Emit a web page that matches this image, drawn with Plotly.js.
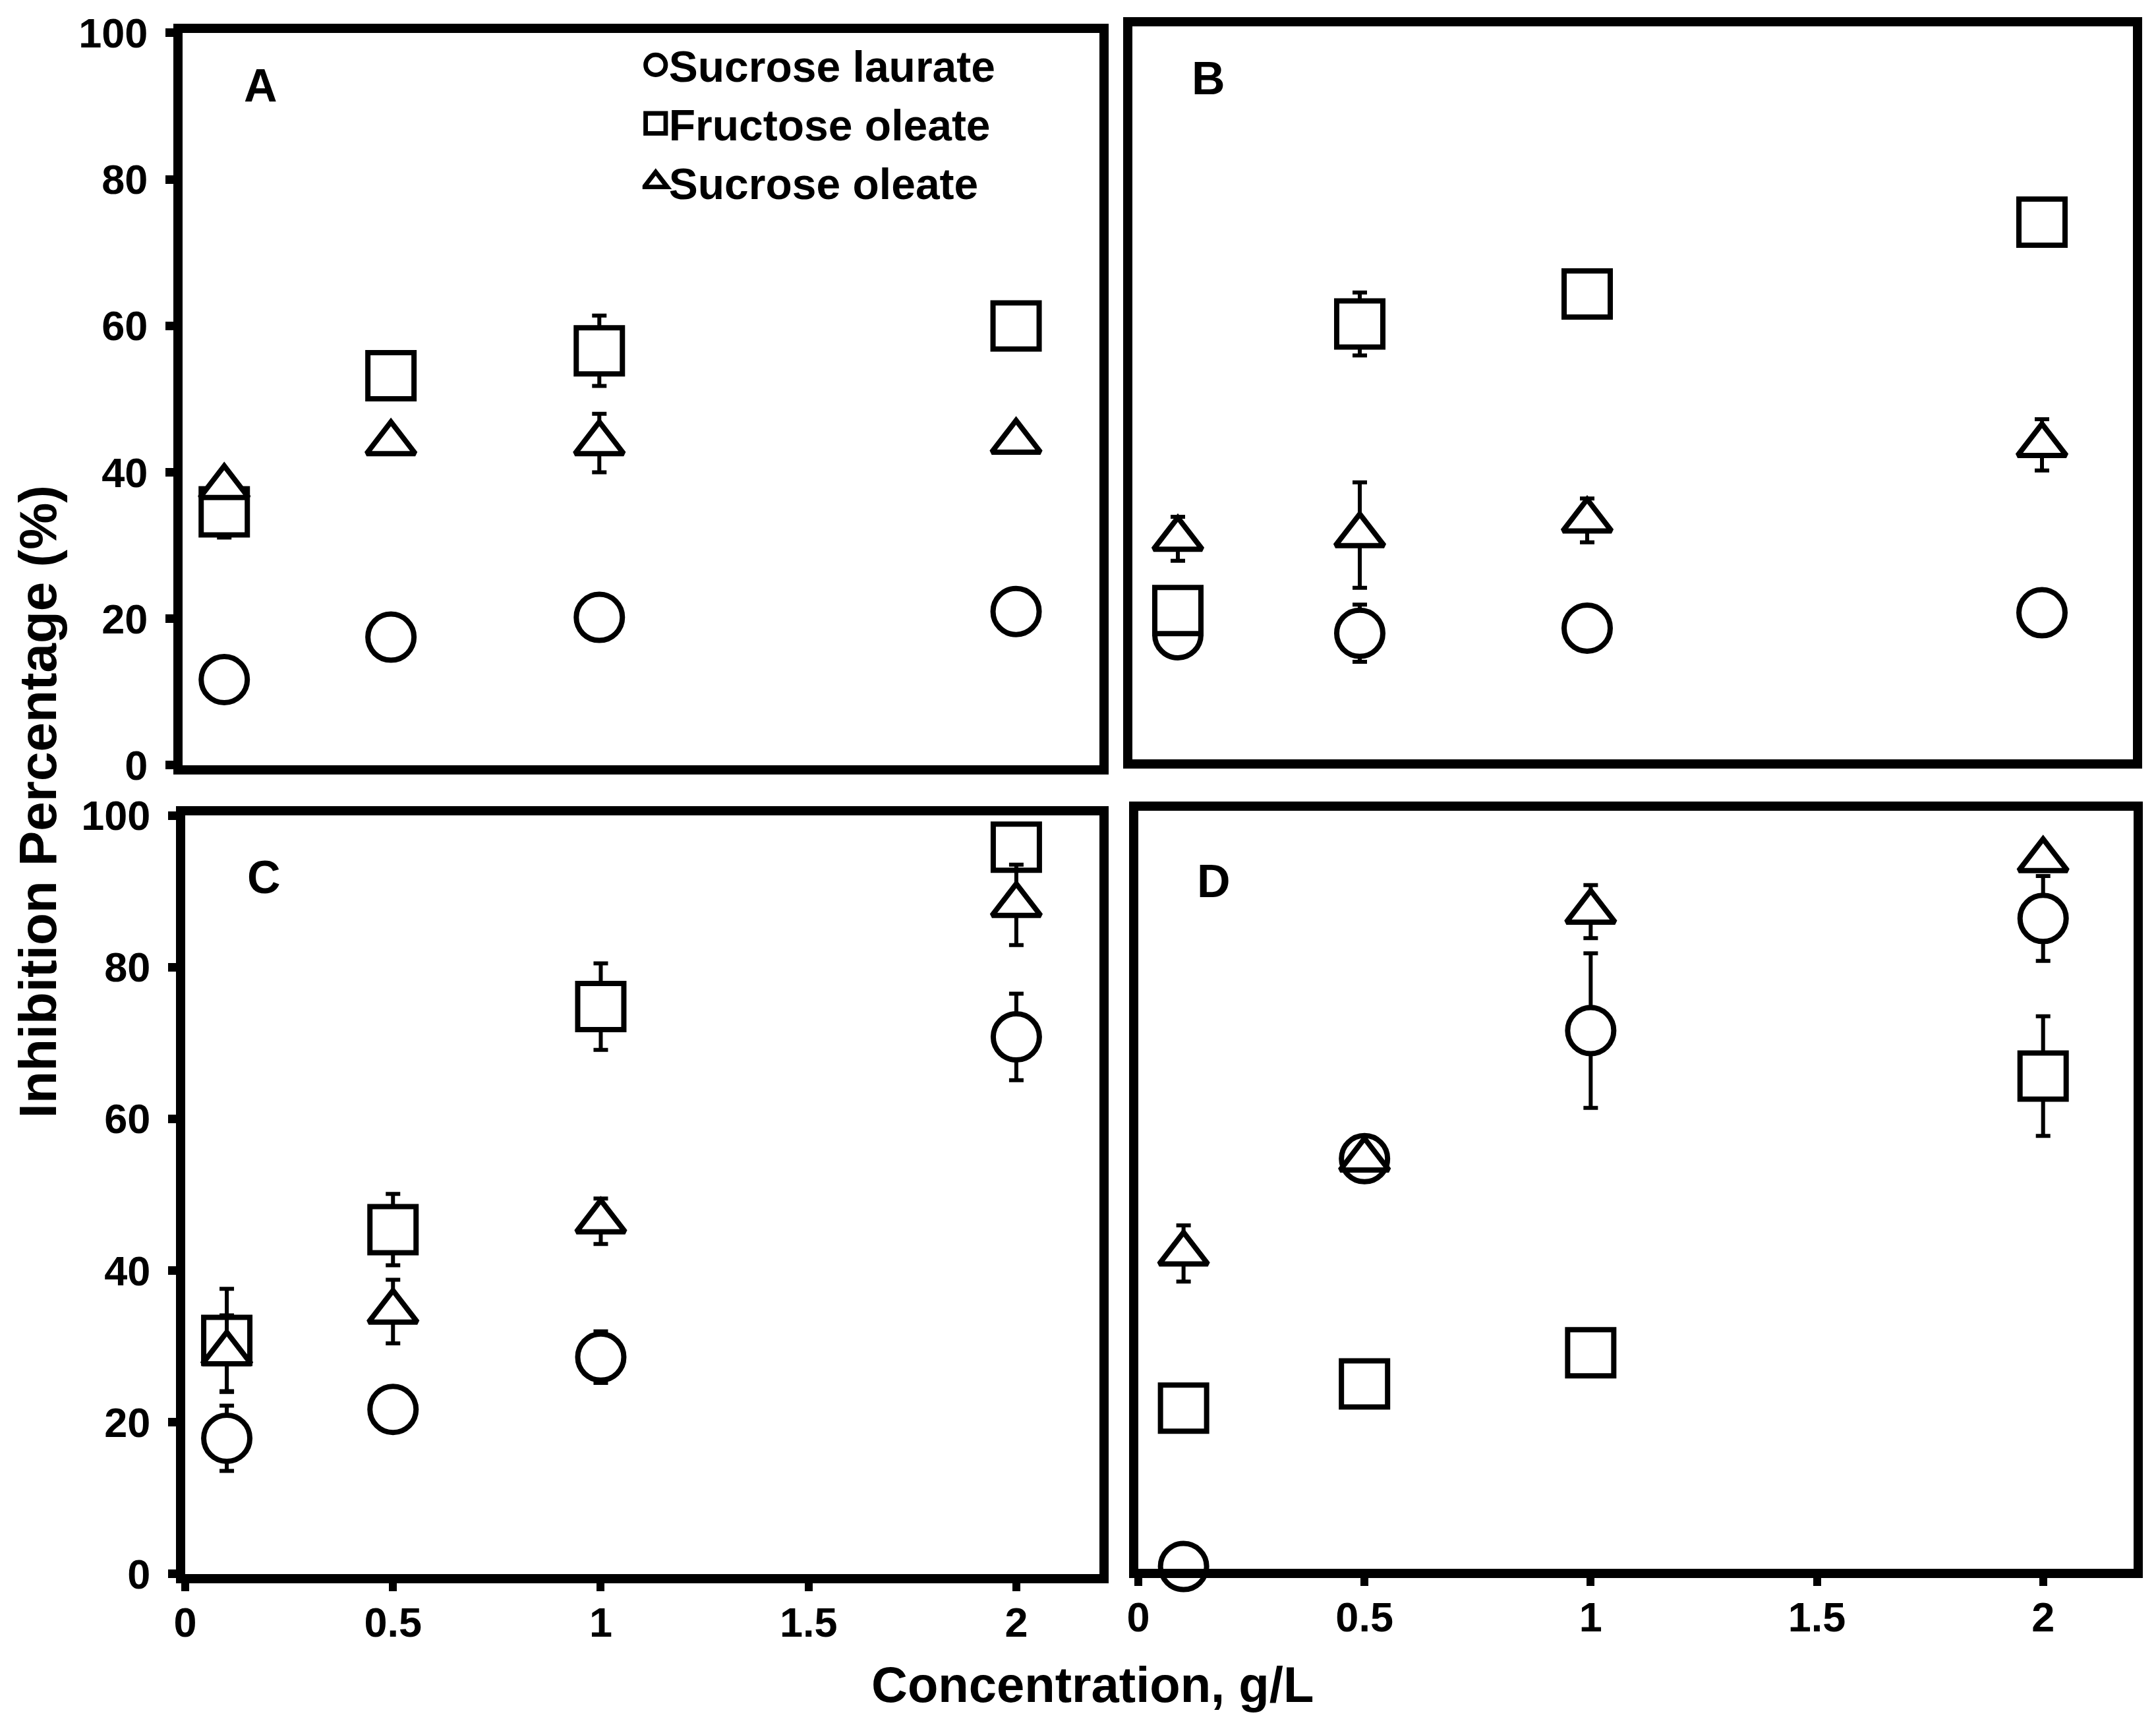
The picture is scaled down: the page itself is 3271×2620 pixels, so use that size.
<!DOCTYPE html>
<html>
<head>
<meta charset="utf-8">
<script src="https://cdn.plot.ly/plotly-3.0.1.min.js"></script>
<style>
  html, body { margin: 0; padding: 0; background: #ffffff; }
  #grafico { width: 3271px; height: 2620px; }
</style>
</head>
<body>
<div id="grafico"></div>
<script>
// Concentração (g/L) - mesma para todos os painéis
const concentracoes = [0.1, 0.5, 1, 2];
const nomesSeries = ['Sucrose laurate', 'Fructose oleate', 'Sucrose oleate'];
const paineis = ['A', 'B', 'C', 'D'];

// Painel A
const aLaurate = [11.7, 17.5, 20.2, 21.0];
const aLaurateErr = [0, 0, 0, 0];
const aFrutOleato = [34.6, 53.2, 56.6, 60.0];
const aFrutOleatoErr = [3.5, 0, 4.8, 0];
const aSacOleato = [38.0, 44.0, 44.0, 44.2];
const aSacOleatoErr = [0, 0, 4.0, 0];

// Painel B
const bLaurate = [17.0, 17.2, 17.9, 20.0];
const bLaurateErr = [0, 3.9, 0, 0];
const bFrutOleato = [20.3, 59.4, 63.5, 73.3];
const bFrutOleatoErr = [0, 4.3, 1.0, 0];
const bSacOleato = [30.1, 30.6, 32.6, 42.9];
const bSacOleatoErr = [3.0, 7.2, 3.0, 3.5];

// Painel C
const cLaurate = [17.9, 21.7, 28.6, 70.8];
const cLaurateErr = [4.3, 0, 3.4, 5.7];
const cFrutOleato = [30.8, 45.4, 74.8, 95.8];
const cFrutOleatoErr = [6.8, 4.7, 5.7, 0];
const cSacOleato = [29.1, 34.6, 46.5, 88.2];
const cSacOleatoErr = [5.0, 4.2, 3.0, 5.3];

// Painel D
const dLaurate = [0.3, 54.1, 71.0, 85.8];
const dLaurateErr = [0, 0, 10.2, 5.6];
const dFrutOleato = [21.2, 24.4, 28.5, 65.0];
const dFrutOleatoErr = [0, 0, 0, 7.9];
const dSacOleato = [41.6, 54.0, 86.7, 93.5];
const dSacOleatoErr = [3.7, 0, 3.5, 0];

const fonte = 'Liberation Sans, Arial, sans-serif';
const simbolos = ['circle', 'square', 'triangle-up'];
const tamanhos = [70, 70, 64];

/**
 * Cria um trace de dispersão com barra de erro.
 */
function criarTrace(painel, serie, y, erro) {
  const sufixo = painel === 0 ? '' : String(painel + 1);
  return {
    x: concentracoes,
    y: y,
    xaxis: 'x' + sufixo,
    yaxis: 'y' + sufixo,
    type: 'scatter',
    mode: 'markers',
    name: nomesSeries[serie],
    legendgroup: nomesSeries[serie],
    showlegend: painel === 0,
    cliponaxis: false,
    marker: {
      symbol: simbolos[serie],
      size: tamanhos[serie],
      color: '#ffffff',
      line: { color: '#000000', width: 8 }
    },
    error_y: {
      type: 'data',
      array: erro,
      visible: true,
      color: '#000000',
      thickness: 6,
      width: 11
    }
  };
}

const dados = [
  criarTrace(0, 0, aLaurate, aLaurateErr),
  criarTrace(0, 1, aFrutOleato, aFrutOleatoErr),
  criarTrace(0, 2, aSacOleato, aSacOleatoErr),
  criarTrace(1, 0, bLaurate, bLaurateErr),
  criarTrace(1, 1, bFrutOleato, bFrutOleatoErr),
  criarTrace(1, 2, bSacOleato, bSacOleatoErr),
  criarTrace(2, 0, cLaurate, cLaurateErr),
  criarTrace(2, 1, cFrutOleato, cFrutOleatoErr),
  criarTrace(2, 2, cSacOleato, cSacOleatoErr),
  criarTrace(3, 0, dLaurate, dLaurateErr),
  criarTrace(3, 1, dFrutOleato, dFrutOleatoErr),
  criarTrace(3, 2, dSacOleato, dSacOleatoErr)
];

const fonteTick = { family: fonte, size: 63, color: '#000000', weight: 'bold' };

/**
 * Eixo x de um painel.
 */
function eixoX(dominio, ancora, comRotulos) {
  return {
    domain: dominio,
    anchor: ancora,
    range: [0, 2.2],
    tick0: 0,
    dtick: 0.5,
    showgrid: false,
    zeroline: false,
    showline: true,
    mirror: true,
    linecolor: '#000000',
    linewidth: 14,
    ticks: comRotulos ? 'outside' : '',
    ticklen: 12,
    tickwidth: 12,
    tickcolor: '#000000',
    showticklabels: comRotulos,
    ticklabelstandoff: -7,
    tickfont: fonteTick,
    fixedrange: true
  };
}

/**
 * Eixo y de um painel.
 */
function eixoY(dominio, ancora, comRotulos) {
  return {
    domain: dominio,
    anchor: ancora,
    range: [0, 100],
    tick0: 0,
    dtick: 20,
    showgrid: false,
    zeroline: false,
    showline: true,
    mirror: true,
    linecolor: '#000000',
    linewidth: 14,
    ticks: comRotulos ? 'outside' : '',
    ticklen: 12,
    tickwidth: 13,
    tickcolor: '#000000',
    showticklabels: comRotulos,
    ticklabelstandoff: 14,
    tickfont: fonteTick,
    fixedrange: true
  };
}

/**
 * Letra do painel.
 */
function letra(texto, x, y) {
  return {
    text: texto, xref: 'paper', yref: 'paper', x: x, y: y,
    xanchor: 'center', yanchor: 'middle', showarrow: false,
    font: { family: fonte, size: 70, color: '#000000', weight: 'bold' }
  };
}

const layout = {
  width: 3271,
  height: 2620,
  margin: { t: 0, b: 0, l: 0, r: 0 },
  paper_bgcolor: '#ffffff',
  plot_bgcolor: 'rgba(0,0,0,0)',
  showlegend: true,
  legend: {
    x: 0.298, y: 0.9813, xanchor: 'left', yanchor: 'top',
    bgcolor: 'rgba(0,0,0,0)', borderwidth: 0, tracegroupgap: 0,
    font: { family: fonte, size: 66, color: '#000000', weight: 'bold' }
  },
  xaxis: eixoX([0.08468, 0.50994], 'y', false),
  yaxis: eixoY([0.55687, 0.98092], 'x', true),
  xaxis2: eixoX([0.52522, 0.98930], 'y2', false),
  yaxis2: eixoY([0.56031, 0.98473], 'x2', false),
  xaxis3: eixoX([0.08591, 0.50994], 'y3', true),
  yaxis3: eixoY([0.08855, 0.52786], 'x3', true),
  xaxis4: eixoX([0.52797, 0.98960], 'y4', true),
  yaxis4: eixoY([0.09160, 0.53053], 'x4', false),
  annotations: [
    letra(paineis[0], 0.12106, 0.95038),
    letra(paineis[1], 0.56038, 0.95458),
    letra(paineis[2], 0.12229, 0.49198),
    letra(paineis[3], 0.56313, 0.48969),
    {
      text: 'Inhibition Percentage (%)', xref: 'paper', yref: 'paper',
      x: 0.0178, y: 0.5359, xanchor: 'center', yanchor: 'middle',
      textangle: -90, showarrow: false,
      font: { family: fonte, size: 80, color: '#000000', weight: 'bold' }
    },
    {
      text: 'Concentration, g/L', xref: 'paper', yref: 'paper',
      x: 0.5066, y: 0.0248, xanchor: 'center', yanchor: 'middle',
      showarrow: false,
      font: { family: fonte, size: 76, color: '#000000', weight: 'bold' }
    }
  ]
};

const config = { responsive: false, displayModeBar: false, staticPlot: true };

/**
 * A legenda do Plotly limita o tamanho do símbolo; aumenta os símbolos
 * para ficarem proporcionais ao texto como no original.
 */
function ampliarSimbolosLegenda(gd) {
  gd.querySelectorAll('.legend .legendpoints path.scatterpts').forEach(p => {
    const t = p.getAttribute('transform') || '';
    p.setAttribute('transform', t + ' scale(1.9)');
    p.style.strokeWidth = '3.6px';
  });
}

Plotly.newPlot('grafico', dados, layout, config).then(ampliarSimbolosLegenda);
</script>
</body>
</html>
